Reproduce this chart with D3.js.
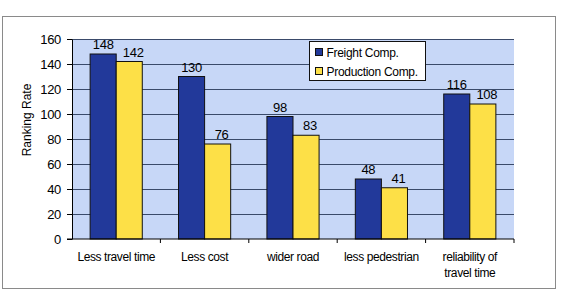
<!DOCTYPE html>
<html>
<head>
<meta charset="utf-8">
<script src="https://d3js.org/d3.v7.min.js"></script>
<style>
  body { margin: 0; background: #fff; }
  text { font-family: "Liberation Sans", Arial, sans-serif; fill: #000; }
  .grid line { stroke: #3a4a6a; stroke-width: 1; }
  .axis path, .axis line { stroke: #000; }
</style>
</head>
<body>
<div id="chart"></div>
<script>
  "use strict"

  var categories = ["Less travel time", "Less cost", "wider road", "less pedestrian", "reliability of travel time"];
  var freight = [148, 130, 98, 48, 116];
  var production = [142, 76, 83, 41, 108];
  var series = ["Freight Comp.", "Production Comp."];
  var yTicks = [0, 20, 40, 60, 80, 100, 120, 140, 160];

  var width = 566, height = 293;
  var margin = {top: 39, right: 52, bottom: 54, left: 72};
  var w = width - margin.left - margin.right,
      h = height - margin.top - margin.bottom;

  var color = d3.scaleOrdinal().domain(series).range(["#22399a", "#fde047"]);

  var svg = d3.select("#chart").append("svg")
      .attr("width", width)
      .attr("height", height);

  // outer frame
  svg.append("rect")
      .attr("x", 2.5).attr("y", 16.5)
      .attr("width", 553).attr("height", 272)
      .attr("fill", "#fff")
      .attr("stroke", "#8a8a8a");

  var g = svg.append("g").attr("transform", "translate(" + margin.left + "," + margin.top + ")");

  var x = d3.scaleBand().domain(categories).range([0, w]);
  var y = d3.scaleLinear().domain([0, 160]).range([h, 0]);
  var barW = x.bandwidth() * 0.295;

  g.append("rect")
      .attr("width", w).attr("height", h)
      .attr("fill", "#c7d7f7");

  g.append("g").attr("class", "grid")
    .selectAll("line")
    .data(yTicks.slice(1))
    .enter().append("line")
      .attr("x1", 0).attr("x2", w)
      .attr("y1", function(d) { return Math.round(y(d)) + 0.5; })
      .attr("y2", function(d) { return Math.round(y(d)) + 0.5; });

  var groups = g.selectAll(".cat")
      .data(categories)
    .enter().append("g")
      .attr("transform", function(d) { return "translate(" + (x(d) + x.bandwidth() / 2) + ",0)"; });

  [freight, production].forEach(function(vals, si) {
    groups.append("rect")
        .attr("x", function() { return si === 0 ? -barW : 0; })
        .attr("y", function(d, i) { return y(vals[i]); })
        .attr("width", barW)
        .attr("height", function(d, i) { return h - y(vals[i]); })
        .attr("fill", color(series[si]))
        .attr("stroke", "#111")
        .attr("stroke-width", 1);

    groups.append("text")
        .attr("x", function() { return si === 0 ? -barW / 2 : barW / 2 + 4; })
        .attr("y", function(d, i) { return y(vals[i]) - 5; })
        .attr("text-anchor", "middle")
        .attr("font-size", 13)
        .attr("letter-spacing", "-0.3px")
        .text(function(d, i) { return vals[i]; });
  });

  // y axis
  var yAxis = g.append("g").attr("class", "axis")
      .call(d3.axisLeft(y).tickValues(yTicks).tickSize(5).tickSizeOuter(0).tickPadding(6));
  yAxis.selectAll("text").attr("font-size", 13).attr("letter-spacing", "-0.3px");

  // x axis with ticks at category boundaries
  var xa = g.append("g").attr("class", "axis")
      .attr("transform", "translate(0," + h + ")");
  xa.append("line").attr("x1", -5).attr("x2", w).attr("stroke", "#000");
  xa.selectAll(".tk")
      .data(categories)
    .enter().append("line")
      .attr("x1", function(d) { return x(d) + x.bandwidth(); })
      .attr("x2", function(d) { return x(d) + x.bandwidth(); })
      .attr("y1", 0).attr("y2", 4)
      .attr("stroke", "#000");

  var labels = xa.selectAll(".lbl")
      .data(categories)
    .enter().append("text")
      .attr("text-anchor", "middle")
      .attr("font-size", 12)
      .attr("letter-spacing", "-0.4px")
      .attr("transform", function(d) { return "translate(" + (x(d) + x.bandwidth() / 2) + ",22)"; });
  labels.each(function(d) {
    var lines = d === "reliability of travel time" ? ["reliability of", "travel time"] : [d];
    var t = d3.select(this);
    lines.forEach(function(l, i) {
      t.append("tspan").attr("x", 0).attr("dy", i === 0 ? 0 : 16).text(l);
    });
  });

  // y label
  svg.append("text")
      .attr("transform", "translate(31,120) rotate(-90)")
      .attr("text-anchor", "middle")
      .attr("font-size", 12)
      .text("Ranking Rate");

  // legend
  var lg = svg.append("g").attr("transform", "translate(309.5,41.5)");
  lg.append("rect")
      .attr("width", 116).attr("height", 39)
      .attr("fill", "#fff").attr("stroke", "#111");
  series.forEach(function(s, i) {
    lg.append("rect")
        .attr("x", 6).attr("y", 7 + i * 19)
        .attr("width", 7).attr("height", 7)
        .attr("fill", color(s)).attr("stroke", "#111");
    lg.append("text")
        .attr("x", 17).attr("y", 15 + i * 19)
        .attr("font-size", 12)
        .attr("letter-spacing", "-0.3px")
        .text(s);
  });
</script>
</body>
</html>
